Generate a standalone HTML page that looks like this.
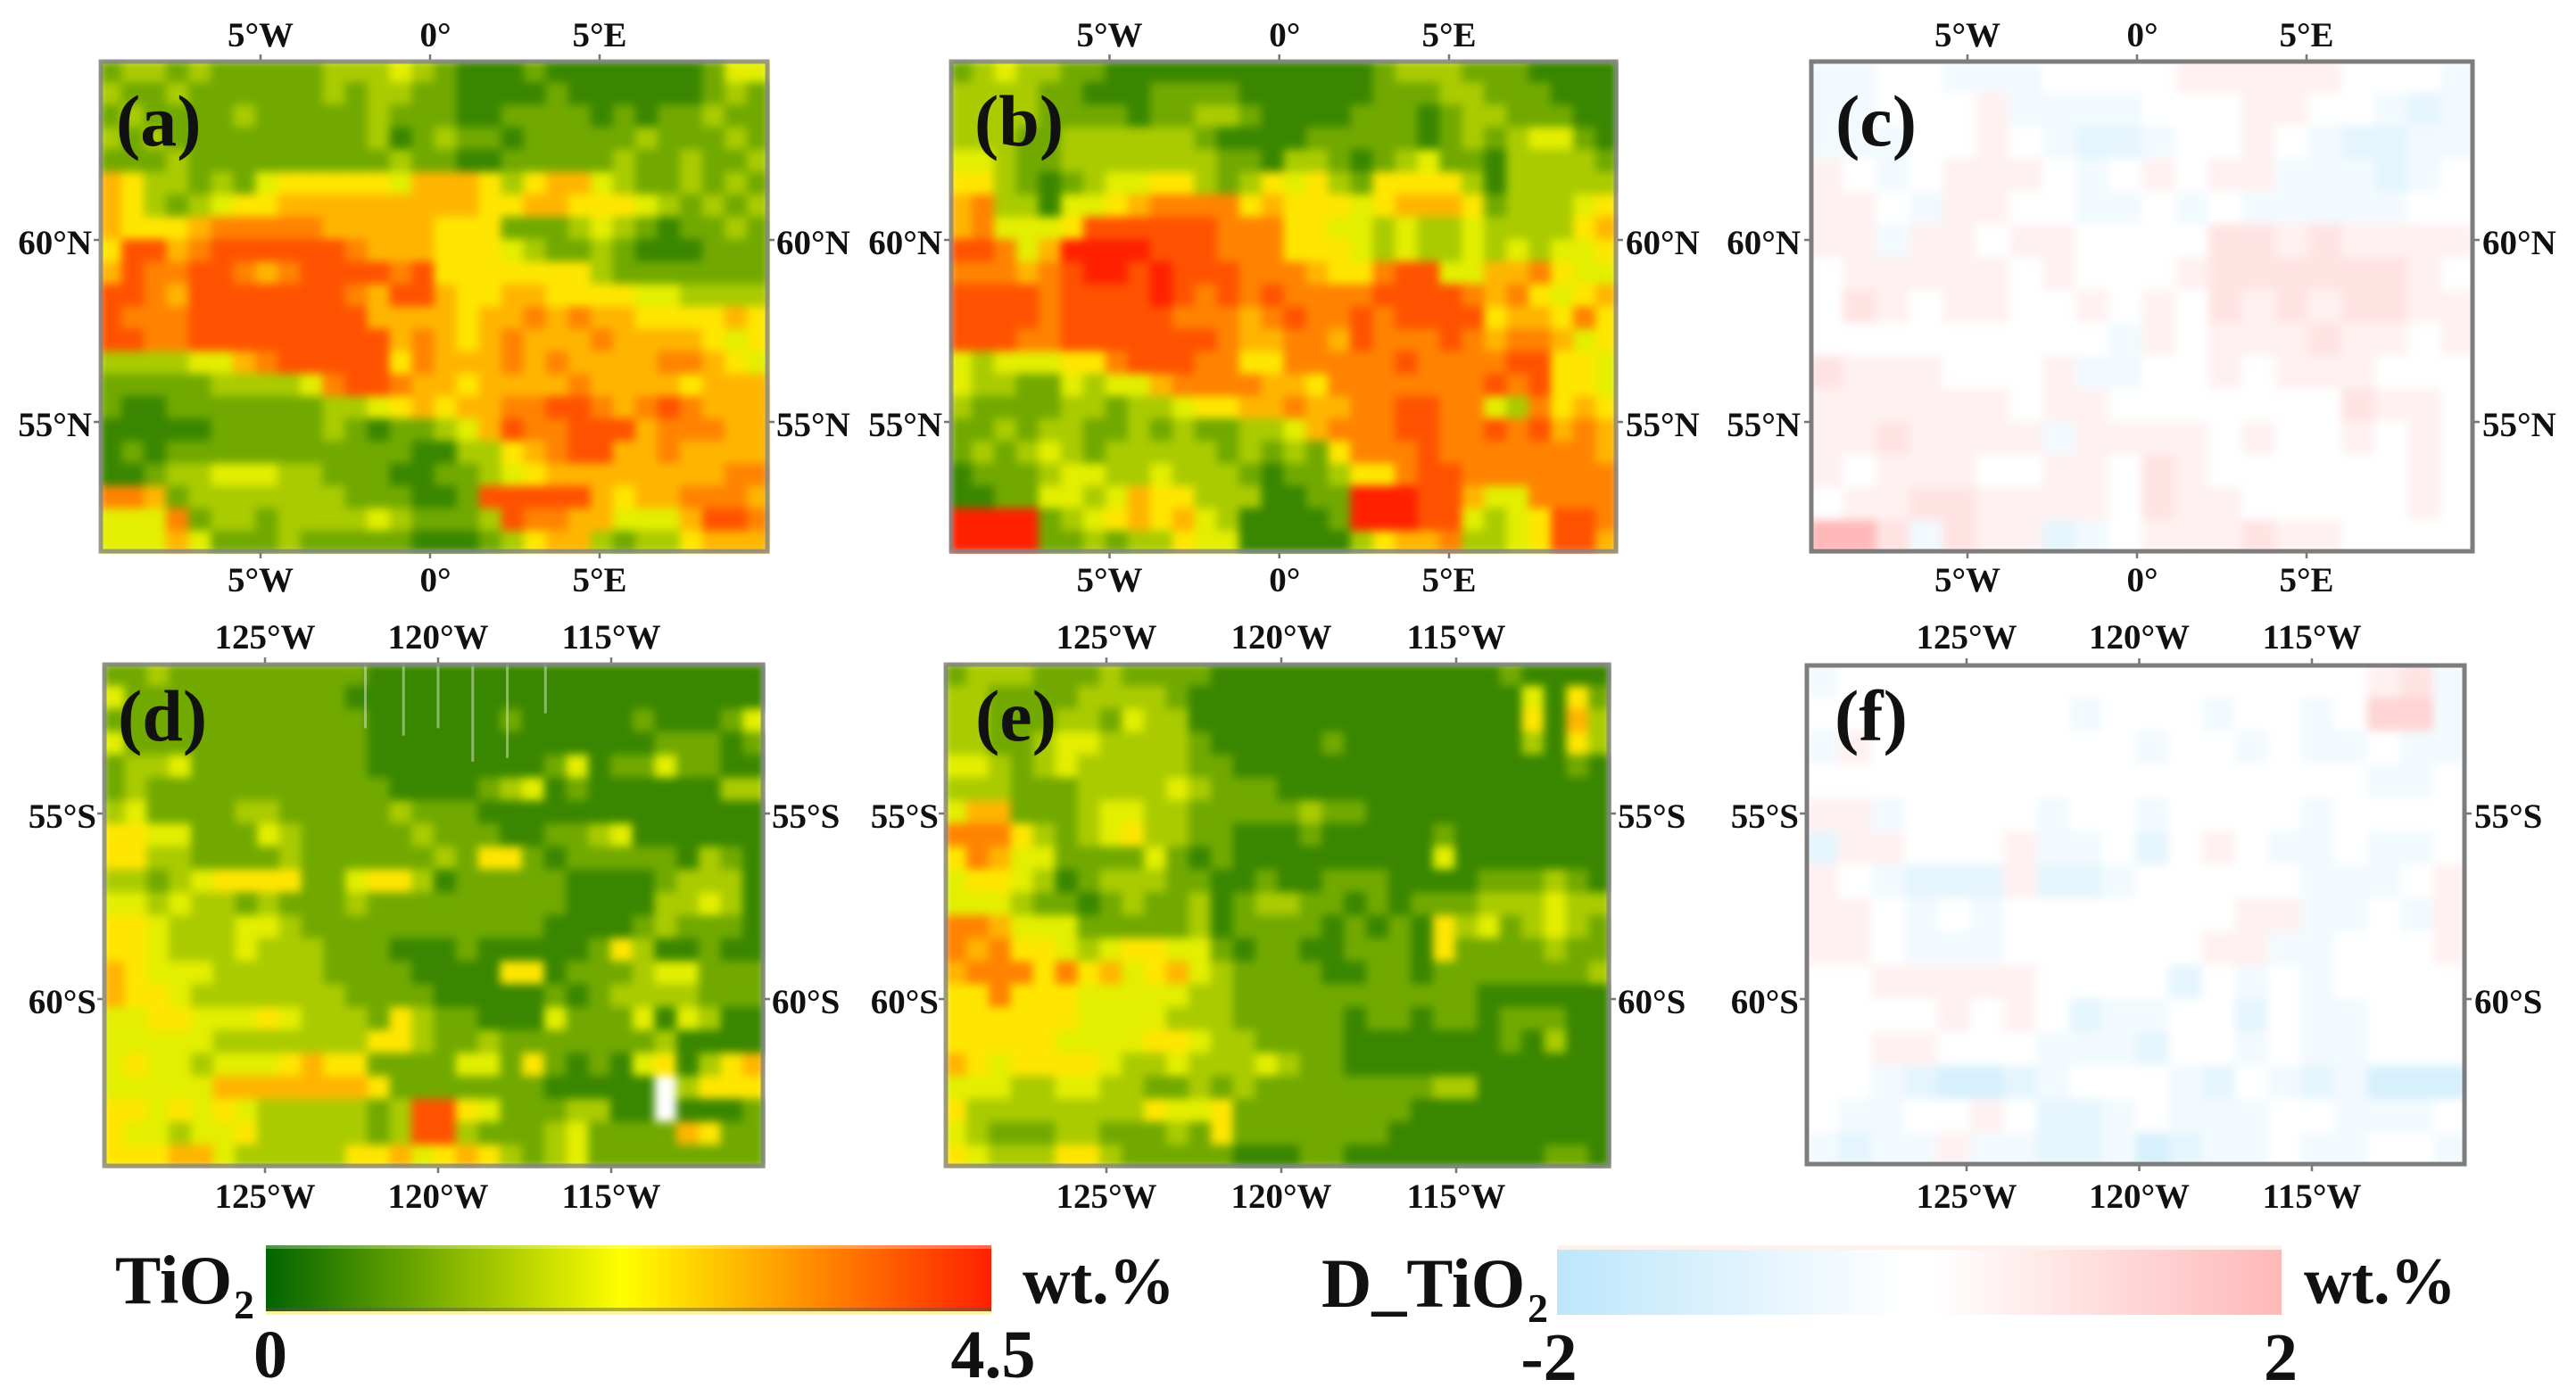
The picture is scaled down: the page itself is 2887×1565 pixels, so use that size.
<!DOCTYPE html>
<html lang="en">
<head>
<meta charset="utf-8">
<title>TiO2 maps</title>
<style>
html,body{margin:0;padding:0;background:#fff;width:2887px;height:1565px;overflow:hidden}
svg{display:block}
text{font-family:"Liberation Serif",serif;font-weight:bold;fill:#111}
</style>
</head>
<body>
<svg id="figure" xmlns="http://www.w3.org/2000/svg" width="2887" height="1565" viewBox="0 0 2887 1565">
<defs>
<filter id="soften" x="0" y="0" width="100%" height="100%" color-interpolation-filters="sRGB"><feGaussianBlur stdDeviation="5"/></filter>
<linearGradient id="tio2-gradient" x1="0" x2="1" y1="0" y2="0">
<stop offset="0" stop-color="#006400"/><stop offset="0.49" stop-color="#ffff00"/><stop offset="1" stop-color="#ff2000"/>
</linearGradient>
<linearGradient id="diff-gradient" x1="0" x2="1" y1="0" y2="0">
<stop offset="0" stop-color="#bde6fb"/><stop offset="0.48" stop-color="#ffffff"/><stop offset="0.52" stop-color="#ffffff"/><stop offset="1" stop-color="#ffb8b8"/>
</linearGradient>
</defs>
<rect width="2887" height="1565" fill="#fff"/>
<g id="panels"></g>

<g>
<rect x="298" y="1469" width="813" height="5" fill="#fff59a"/>
<rect x="298" y="1396" width="813" height="74" fill="url(#tio2-gradient)"/>
<rect x="298" y="1396" width="813" height="4" fill="#fff" opacity="0.3"/>
<rect x="298" y="1466" width="813" height="4" fill="#555" opacity="0.45"/>
<text x="129" y="1461" font-size="77">TiO</text>
<text x="262" y="1478" font-size="46">2</text>
<text x="1146" y="1461" font-size="74">wt.%</text>
<text x="303" y="1544" font-size="76" text-anchor="middle">0</text>
<text x="1113" y="1544" font-size="76" text-anchor="middle">4.5</text>
</g>

<g>
<rect x="1745" y="1396" width="812" height="6" fill="#fdf1ee"/>
<rect x="1745" y="1401" width="812" height="73" fill="url(#diff-gradient)"/>
<text x="1481" y="1465" font-size="78">D_TiO</text>
<text x="1712" y="1482" font-size="46">2</text>
<text x="2582" y="1461" font-size="74">wt.%</text>
<text x="1736" y="1547" font-size="76" text-anchor="middle">-2</text>
<text x="2556" y="1547" font-size="76" text-anchor="middle">2</text>
</g>
</svg>

<script>
/* Tick values and labels */
const lonTicksNorth = [-5, 0, 5];
const lonLabelsNorth = ["5°W", "0°", "5°E"];
const latTicksNorth = [60, 55];
const latLabelsNorth = ["60°N", "55°N"];
const lonTicksSouth = [-125, -120, -115];
const lonLabelsSouth = ["125°W", "120°W", "115°W"];
const latTicksSouth = [-55, -60];
const latLabelsSouth = ["55°S", "60°S"];

/* TiO2 level per grid cell: 0 (0 wt.%) to 9 (4.5 wt.%); null = no data */
const tio2LevelMax = 9;
const panelA = [
[2,3,3,2,3,2,2,2,2,2,3,3,3,4,3,2,1,1,1,2,1,1,1,1,1,1,1,2,4,4],
[3,2,2,3,2,2,2,2,2,2,3,2,3,3,2,2,1,1,1,1,2,1,1,1,1,1,1,2,3,2],
[2,3,2,2,2,2,3,2,2,2,2,2,3,2,2,2,1,1,2,2,2,2,1,2,1,2,2,3,2,2],
[3,2,3,2,2,2,2,2,2,2,2,2,3,1,2,3,2,2,1,2,2,2,2,2,3,2,2,2,3,2],
[2,2,2,3,2,2,2,2,2,2,2,2,2,3,2,2,1,1,2,2,2,2,2,3,2,2,3,2,2,3],
[6,5,3,3,2,3,2,4,5,5,5,5,5,4,6,6,6,5,3,5,6,6,4,3,2,2,3,2,3,2],
[6,5,3,2,3,4,5,5,6,6,6,6,6,6,6,6,6,5,5,6,6,5,5,5,4,3,2,3,2,3],
[6,5,5,5,6,7,7,7,7,7,6,6,6,6,6,5,5,5,2,2,2,3,4,3,2,1,2,2,3,2],
[5,8,8,6,7,8,8,8,8,8,8,7,6,6,6,5,5,5,4,3,2,2,3,2,1,1,1,2,2,2],
[6,8,7,7,8,8,7,6,7,8,8,8,8,7,8,5,5,5,5,5,5,5,3,2,2,2,2,2,2,2],
[8,8,7,6,8,8,8,8,8,8,8,7,6,8,8,6,5,5,6,6,5,5,5,5,4,4,3,3,3,3],
[8,7,7,7,8,8,8,8,8,8,8,8,6,6,6,6,5,6,6,7,6,7,6,6,5,5,5,5,6,5],
[8,8,7,7,8,8,8,8,8,8,8,8,8,6,7,6,5,6,7,6,6,6,7,6,6,6,6,5,4,5],
[3,3,3,3,4,4,6,7,8,8,8,8,8,5,7,6,6,6,7,6,7,6,6,6,6,7,7,6,5,4],
[2,2,2,2,2,3,3,3,3,4,7,8,8,7,6,6,5,6,6,6,6,7,6,6,6,6,5,6,6,6],
[2,1,1,2,2,2,2,2,2,2,3,3,4,5,6,5,6,6,7,7,8,8,7,6,7,8,7,6,6,6],
[1,1,1,1,1,2,2,2,2,2,3,2,1,2,2,3,4,6,8,7,7,8,8,8,6,7,7,7,6,6],
[1,2,1,2,2,2,2,2,2,2,2,2,2,2,1,1,3,3,5,6,7,8,8,6,6,7,6,6,6,6],
[1,1,2,3,3,4,4,4,3,3,2,2,2,1,1,2,2,3,4,5,6,6,6,6,6,6,6,6,7,7],
[7,7,6,2,3,3,3,3,3,3,3,2,2,2,1,1,2,8,8,8,8,8,6,5,6,6,7,7,7,6],
[4,4,4,7,2,3,3,2,3,3,3,3,4,3,2,2,2,3,8,7,7,6,6,4,4,4,6,8,8,7],
[4,4,4,6,4,2,2,2,3,2,2,2,2,2,1,1,1,2,3,5,6,6,3,2,3,3,5,6,6,6]
];
const panelB = [
[2,3,4,3,3,2,2,1,1,1,1,1,1,1,1,1,1,1,1,2,3,3,3,2,2,2,1,1,1,1],
[3,3,3,3,2,2,1,1,1,2,2,2,2,1,1,1,1,1,1,2,2,2,3,3,2,2,2,1,1,1],
[3,3,3,3,2,2,2,2,1,2,2,3,3,2,1,1,1,1,2,2,2,1,2,3,3,2,2,2,1,1],
[3,3,3,2,2,3,3,3,3,3,3,2,1,1,1,1,2,2,2,2,2,1,2,3,2,3,4,4,2,1],
[4,4,3,2,2,3,3,3,3,3,3,3,2,2,1,3,3,2,1,2,3,4,2,2,1,3,3,3,3,2],
[5,5,3,2,1,2,3,4,4,5,5,3,2,3,5,4,5,3,2,5,5,5,5,3,1,3,3,3,3,3],
[6,7,3,3,1,4,4,5,6,7,7,7,7,5,6,5,5,5,4,5,6,6,6,5,2,3,3,3,4,5],
[6,7,4,4,4,5,8,8,8,8,8,8,7,7,7,5,5,4,4,3,4,3,3,4,3,3,3,3,5,6],
[8,8,7,4,6,9,9,9,9,8,8,8,7,7,7,5,5,5,4,3,4,3,3,4,3,4,3,4,4,5],
[7,7,7,6,7,8,9,9,8,9,8,8,8,7,7,7,6,5,5,7,8,8,4,4,6,6,7,5,4,4],
[8,8,8,8,7,8,8,8,8,9,8,7,8,7,8,7,7,7,7,8,8,8,8,7,6,7,5,4,5,6],
[8,8,8,8,7,8,8,8,8,8,7,7,7,6,7,8,7,7,8,7,8,8,8,8,5,6,6,5,7,5],
[8,8,8,7,7,8,8,8,8,8,8,8,7,6,6,7,7,6,8,7,7,7,8,7,6,7,7,6,4,5],
[4,3,4,4,4,5,5,7,8,8,8,7,7,5,5,7,7,7,7,7,8,7,7,7,7,8,8,5,5,4],
[4,3,3,2,2,4,3,4,4,6,7,7,7,7,6,6,5,7,7,7,7,7,7,7,8,7,8,5,5,4],
[3,2,2,2,2,3,3,2,3,3,4,5,5,6,6,7,6,6,7,7,8,8,7,7,4,3,7,5,6,5],
[2,2,3,2,3,3,2,2,3,2,3,2,2,3,3,4,6,7,7,7,8,8,7,7,8,7,8,6,7,6],
[2,3,2,3,4,3,2,3,3,3,3,3,2,3,2,3,2,5,7,7,7,8,7,7,7,7,7,7,7,6],
[1,2,2,2,3,4,4,3,3,4,3,3,3,2,1,2,2,3,5,5,7,8,8,7,7,7,7,7,7,7],
[1,1,2,2,4,4,3,4,6,5,5,3,3,3,1,1,2,2,9,9,9,8,8,6,4,4,7,7,7,7],
[9,9,9,9,2,3,4,5,6,5,6,4,3,1,1,1,1,2,9,9,9,8,8,4,3,4,5,8,8,7],
[9,9,9,9,2,2,3,2,3,3,5,4,4,1,1,1,1,1,3,5,6,6,7,3,3,4,5,8,8,6]
];
const panelD = [
[2,2,3,2,2,2,2,2,2,2,2,2,1,1,1,1,1,1,1,1,1,1,1,1,1,1,1,1,1,1],
[4,2,2,2,2,2,2,2,2,2,2,1,1,1,1,1,1,1,1,1,1,1,1,1,1,1,1,1,1,1],
[2,2,2,2,2,2,2,2,2,2,2,2,1,1,1,1,1,1,2,1,1,1,1,1,2,1,1,1,2,4],
[4,2,2,2,2,2,2,2,2,2,2,2,1,1,1,1,1,1,1,1,1,1,1,1,1,2,2,2,1,2],
[2,3,3,4,2,2,2,2,2,2,2,2,1,1,1,1,1,1,1,1,2,4,1,2,2,4,2,2,1,1],
[2,3,2,2,2,2,2,2,2,2,2,2,2,1,1,1,1,2,3,4,1,2,1,1,1,1,1,1,3,3],
[3,4,2,2,2,2,3,3,2,2,2,2,2,3,2,2,2,1,1,1,1,1,1,1,1,1,1,1,1,1],
[5,5,4,4,2,2,2,4,3,2,2,2,2,2,3,2,2,2,1,1,2,2,3,4,1,1,1,1,1,1],
[5,5,3,3,2,2,2,2,3,2,2,2,2,2,2,3,2,5,5,2,1,2,2,2,2,2,1,3,2,1],
[3,3,2,3,4,5,5,5,5,2,2,4,5,5,3,1,2,2,2,2,2,1,1,1,1,2,3,3,3,1],
[4,4,3,4,3,3,2,3,2,2,2,3,2,2,2,2,2,2,2,2,2,1,1,1,1,3,3,4,3,1],
[5,5,4,3,3,3,4,4,3,2,2,2,2,2,2,2,2,2,2,2,1,1,1,1,2,3,2,2,2,1],
[5,5,4,3,3,3,4,3,3,3,2,2,2,1,1,1,2,1,1,1,1,1,2,5,3,1,1,2,1,1],
[6,5,4,4,4,3,3,3,3,3,2,2,2,2,1,1,1,1,5,5,1,2,2,2,3,4,4,2,2,2],
[6,5,5,4,3,3,3,3,3,3,3,2,2,2,2,1,1,1,1,1,2,1,2,3,3,3,3,2,2,2],
[4,4,5,5,4,4,4,5,4,3,3,3,2,5,3,2,2,1,1,1,4,2,2,2,4,1,4,3,1,1],
[4,4,4,4,4,3,3,3,3,3,3,3,5,5,3,2,2,3,2,2,2,2,2,2,2,3,1,1,1,1],
[4,5,4,4,3,4,4,4,5,6,5,5,2,2,2,2,4,4,2,5,2,1,2,1,4,5,1,3,5,6],
[4,4,4,4,4,6,6,6,6,6,6,6,5,2,2,2,2,2,2,2,1,1,1,1,1,null,3,5,5,5],
[5,5,4,5,4,5,4,3,3,3,3,3,2,3,8,8,5,4,2,2,2,3,3,1,1,null,1,1,1,2],
[5,4,4,3,4,4,5,3,3,3,3,3,2,3,8,8,3,2,2,2,3,4,2,2,2,2,6,5,2,2],
[5,5,5,6,6,4,3,3,3,3,3,5,5,6,4,5,6,5,3,2,3,4,2,2,2,2,2,2,2,2]
];
const panelE = [
[2,3,3,3,2,2,2,3,2,2,2,2,1,1,1,1,1,1,1,1,1,1,1,1,1,2,1,1,1,1],
[3,3,2,2,2,2,3,3,3,3,2,1,1,1,1,1,1,1,1,1,1,1,1,1,1,1,4,1,5,2],
[3,3,2,2,2,3,3,2,4,3,3,1,1,1,1,1,1,1,1,1,1,1,1,1,1,1,5,1,6,3],
[3,3,2,2,3,4,4,3,3,3,3,2,1,1,1,1,1,2,1,1,1,1,1,1,1,1,3,1,5,3],
[4,4,3,2,3,4,3,3,3,3,3,2,2,1,1,1,1,1,1,1,1,1,1,1,1,1,1,1,2,1],
[3,3,3,2,2,2,3,3,3,3,4,3,2,2,2,1,1,1,1,1,1,1,1,1,1,1,1,1,1,1],
[4,6,6,2,2,2,3,4,4,3,3,2,2,2,2,2,3,2,2,1,1,1,1,1,1,1,1,1,1,1],
[7,7,7,5,3,2,3,4,5,3,3,2,2,1,1,1,2,1,1,1,1,1,2,1,1,1,1,1,1,1],
[5,7,6,4,4,2,2,2,2,4,2,1,2,1,1,1,1,1,1,1,1,1,4,1,1,1,1,1,1,1],
[4,5,5,4,3,1,2,3,3,3,2,2,1,1,2,1,1,2,2,2,1,1,1,1,2,2,2,3,2,1],
[4,4,4,3,2,2,1,2,3,2,2,3,1,2,3,3,2,2,1,2,1,2,2,2,3,3,3,4,3,3],
[7,7,6,4,4,4,2,2,2,2,2,3,1,2,2,2,2,1,2,1,2,1,5,3,4,2,3,4,3,2],
[7,6,7,5,5,4,3,4,5,5,4,4,2,1,2,2,1,1,2,2,2,1,5,2,2,2,2,3,2,2],
[6,7,7,7,5,7,5,6,4,5,6,4,3,2,2,2,2,1,1,2,2,1,2,2,2,2,2,2,2,3],
[5,5,7,5,5,5,4,4,4,4,4,3,3,2,2,2,2,2,2,2,2,2,2,2,1,1,1,1,1,1],
[5,5,5,5,5,5,4,4,4,4,3,3,3,2,2,2,2,2,1,2,2,1,2,2,1,2,2,2,1,1],
[5,5,5,5,5,4,4,4,4,5,5,4,3,3,2,2,2,2,1,1,1,1,1,1,1,2,1,3,1,1],
[6,5,4,5,5,5,5,4,3,3,4,3,3,3,4,3,2,2,1,1,1,1,1,1,1,1,1,1,1,1],
[4,4,4,3,3,4,4,3,3,2,2,3,2,3,2,2,2,2,2,2,2,2,3,3,1,1,1,1,1,1],
[5,3,3,3,3,3,3,3,3,5,4,4,5,2,2,2,2,2,2,2,2,1,1,1,1,1,1,1,1,1],
[4,3,2,2,2,3,3,2,2,2,3,2,5,2,2,2,2,2,2,2,1,1,1,1,1,1,1,1,1,1],
[5,4,3,3,3,5,5,3,2,2,2,2,2,1,1,1,2,2,1,1,1,1,1,1,1,1,1,2,2,1]
];

/* Difference level per grid cell: -5 (-2 wt.%) to 5 (2 wt.%) */
const diffLevelMax = 5;
const panelC = [
[-1,-1,0,0,-1,-1,-1,0,0,0,0,1,1,1,1,1,0,0,0,-1],
[-1,-1,0,0,0,1,-1,-1,-1,-1,0,0,0,1,1,0,0,-1,-2,-1],
[-1,-1,-1,0,0,1,0,-1,-2,-2,-1,0,0,1,0,-1,-2,-2,-1,-1],
[1,0,-1,0,1,1,1,0,-1,0,1,0,1,1,-1,-1,-1,-2,-1,0],
[1,1,0,-1,1,1,0,0,-1,-1,0,-1,0,-1,-1,-1,-1,-1,0,0],
[1,1,-1,1,1,0,1,1,0,0,0,0,2,2,1,2,1,1,1,1],
[0,1,1,1,1,1,0,1,0,0,0,1,2,2,2,2,2,2,1,0],
[0,2,1,0,1,1,0,0,1,0,1,0,2,1,2,1,2,2,1,1],
[0,0,0,0,0,0,0,0,0,-1,1,0,1,1,1,2,1,1,0,1],
[2,1,1,1,0,0,0,1,-1,-1,0,0,1,0,1,1,1,0,0,0],
[1,1,1,1,1,1,0,1,1,0,0,0,0,0,0,0,2,1,1,0],
[1,1,2,1,1,1,1,-1,1,1,1,1,0,1,0,0,1,0,1,0],
[1,0,1,1,1,0,0,1,1,0,2,1,0,0,0,0,0,0,1,0],
[0,1,1,2,2,1,1,1,1,0,2,1,1,0,0,0,0,0,1,0],
[5,5,2,-1,2,1,1,-2,-1,0,1,1,1,2,1,1,0,0,0,0]
];
const panelF = [
[-1,0,0,0,0,0,0,0,0,0,0,0,0,0,0,0,0,1,2,-1],
[0,0,0,0,0,0,0,0,-1,0,0,0,-1,0,0,-1,0,3,3,-1],
[-1,1,0,0,0,0,0,0,0,0,-1,0,0,-1,0,-1,-1,0,-1,-1],
[0,0,0,0,0,0,0,0,0,0,0,0,0,0,0,0,0,-1,-1,0],
[1,1,-1,0,0,0,0,-1,0,0,-1,0,0,0,0,-1,0,0,0,0],
[-2,1,1,0,0,0,1,-1,-1,0,-2,0,1,0,-1,-1,0,-1,-1,0],
[1,0,-1,-2,-2,-2,1,-2,-2,-1,0,0,0,0,0,-1,-1,-1,0,1],
[1,1,0,-1,0,-1,0,0,0,0,0,0,0,1,1,-1,-1,0,-1,1],
[1,1,0,-1,-1,-1,0,0,0,0,0,0,1,1,-1,-1,0,0,0,1],
[0,0,1,1,1,1,1,0,0,0,0,-2,0,-1,0,-1,0,0,0,0],
[0,0,0,0,1,0,1,0,-2,-1,-1,0,0,-2,0,-1,-1,0,0,0],
[0,0,1,1,0,0,0,-1,-1,-1,-2,0,0,-1,0,-1,-1,0,0,0],
[0,0,-1,-2,-3,-3,-2,-1,0,0,0,-1,-2,0,-1,-2,-1,-3,-3,-3],
[0,-1,-1,0,0,1,0,-2,-2,-1,0,-1,-1,-1,0,0,-1,-1,-1,0],
[-1,-2,-1,-1,1,-1,-1,-2,-2,-1,-3,-2,-1,-1,0,-1,-1,0,0,-1]
];

/* Bright striping in panel d: longitude and the latitude where each stripe ends */
const stripeLons = [-122.1, -121, -120, -119, -118, -116.9];
const stripeEndLats = [-52.7, -52.9, -52.7, -53.6, -53.5, -52.3];

/* Colour ramp stops */
const tio2Ramp = [[0, 100, 0], [255, 255, 0], [255, 32, 0]];
const diffRamp = [[189, 230, 251], [255, 255, 255], [255, 184, 184]];

const SVG_NS = "http://www.w3.org/2000/svg";
const root = document.getElementById("panels");

function make(tag, parent) {
  const el = document.createElementNS(SVG_NS, tag);
  parent.appendChild(el);
  return el;
}
function mix(a, b, t) {
  return "rgb(" + [0, 1, 2].map(i => Math.round(a[i] + (b[i] - a[i]) * t)).join(",") + ")";
}
function rampColor(ramp, t) {
  if (t <= 0.5) return mix(ramp[0], ramp[1], t / 0.5);
  return mix(ramp[1], ramp[2], (t - 0.5) / 0.5);
}
function tio2Color(v) {
  if (v === null) return "#ffffff";
  return rampColor(tio2Ramp, v / tio2LevelMax);
}
function diffColor(v) {
  return rampColor(diffRamp, (v + diffLevelMax) / (2 * diffLevelMax));
}
function linearScale(d0, d1, r0, r1) {
  return v => r0 + (v - d0) * (r1 - r0) / (d1 - d0);
}

function drawPanel(cfg) {
  const g = make("g", root);
  
  
  const width = cfg.x1 - cfg.x0, height = cfg.y1 - cfg.y0;
  const xOf = linearScale(cfg.lons[0], cfg.lons[2], cfg.lonPx[0], cfg.lonPx[1]);
  const yOf = linearScale(cfg.lats[0], cfg.lats[1], cfg.latPx[0], cfg.latPx[1]);

  const cells = make("g", g);
  
  
  cells.setAttribute("filter", "url(#soften)");
  const rows = cfg.grid.length, cols = cfg.grid[0].length;
  const cw = width / cols, ch = height / rows;
  cfg.grid.forEach((row, r) => row.forEach((v, c) => {
    const cell = make("rect", cells);
    
    
    cell.setAttribute("x", cfg.x0 + c * cw);
    cell.setAttribute("y", cfg.y0 + r * ch);
    cell.setAttribute("width", cw + 0.6);
    cell.setAttribute("height", ch + 0.6);
    cell.setAttribute("fill", cfg.color(v));
  }));

  if (cfg.stripes) {
    stripeLons.forEach((lon, i) => {
      const line = make("line", g);
      
      
      line.setAttribute("x1", xOf(lon));
      line.setAttribute("x2", xOf(lon));
      line.setAttribute("y1", cfg.y0);
      line.setAttribute("y2", yOf(stripeEndLats[i]));
      line.setAttribute("stroke", "#cfe3c0");
      line.setAttribute("stroke-width", "3");
      line.setAttribute("opacity", "0.55");
    });
  }

  const frame = make("rect", g);
  
  
  frame.setAttribute("x", cfg.x0 + 2);
  frame.setAttribute("y", cfg.y0 + 2);
  frame.setAttribute("width", width - 4);
  frame.setAttribute("height", height - 4);
  frame.setAttribute("fill", "none");
  frame.setAttribute("stroke", "#7d7d7d");
  frame.setAttribute("stroke-width", "5");
  frame.setAttribute("opacity", cfg.frameOpacity);

  cfg.lons.forEach((lon, i) => {
    [[cfg.y0 - 6, cfg.y0, cfg.topBase, "x-label-top"], [cfg.y1, cfg.y1 + 6, cfg.botBase, "x-label-bottom"]].forEach(s => {
      const tick = make("line", g);
      
      
      tick.setAttribute("x1", xOf(lon));
      tick.setAttribute("x2", xOf(lon));
      tick.setAttribute("y1", s[0]);
      tick.setAttribute("y2", s[1]);
      tick.setAttribute("stroke", "#777");
      tick.setAttribute("stroke-width", "2.5");
      const label = make("text", g);
      
      
      label.setAttribute("x", xOf(lon) + (lon === 0 ? 6 : 0));
      label.setAttribute("y", s[2]);
      label.setAttribute("font-size", "39");
      label.setAttribute("text-anchor", "middle");
      label.textContent = cfg.lonLabels[i];
    });
  });

  cfg.lats.forEach((lat, i) => {
    const leftTick = make("line", g);
    
    
    leftTick.setAttribute("x1", cfg.x0 - 6);
    leftTick.setAttribute("x2", cfg.x0);
    leftTick.setAttribute("y1", yOf(lat));
    leftTick.setAttribute("y2", yOf(lat));
    leftTick.setAttribute("stroke", "#777");
    leftTick.setAttribute("stroke-width", "2.5");
    const rightTick = make("line", g);
    
    
    rightTick.setAttribute("x1", cfg.x1);
    rightTick.setAttribute("x2", cfg.x1 + 6);
    rightTick.setAttribute("y1", yOf(lat));
    rightTick.setAttribute("y2", yOf(lat));
    rightTick.setAttribute("stroke", "#777");
    rightTick.setAttribute("stroke-width", "2.5");
    const left = make("text", g);
    
    
    left.setAttribute("x", cfg.leftEnd);
    left.setAttribute("y", yOf(lat) + 16);
    left.setAttribute("font-size", "39");
    left.setAttribute("text-anchor", "end");
    left.textContent = cfg.latLabels[i];
    const right = make("text", g);
    
    
    right.setAttribute("x", cfg.rightStart);
    right.setAttribute("y", yOf(lat) + 16);
    right.setAttribute("font-size", "39");
    right.textContent = cfg.latLabels[i];
  });

  const tag = make("text", g);
  
  
  tag.setAttribute("x", cfg.x0 + cfg.tagDx);
  tag.setAttribute("y", cfg.tagY);
  tag.setAttribute("font-size", "82");
  tag.textContent = "(" + cfg.id + ")";
}

drawPanel({id:"a",grid:panelA,color:tio2Color,x0:111,x1:862,y0:67,y1:620,lons:lonTicksNorth,lonPx:[292,672],lonLabels:lonLabelsNorth,lats:latTicksNorth,latPx:[269,473],latLabels:latLabelsNorth,topBase:52,botBase:663,leftEnd:103,rightStart:870,tagDx:19,tagY:163,frameOpacity:0.75});
drawPanel({id:"b",grid:panelB,color:tio2Color,x0:1064,x1:1813,y0:67,y1:620,lons:lonTicksNorth,lonPx:[1243.5,1624],lonLabels:lonLabelsNorth,lats:latTicksNorth,latPx:[269,473],latLabels:latLabelsNorth,topBase:52,botBase:663,leftEnd:1056,rightStart:1822,tagDx:28,tagY:163,frameOpacity:0.75});
drawPanel({id:"c",grid:panelC,color:diffColor,x0:2028,x1:2773,y0:67,y1:620,lons:lonTicksNorth,lonPx:[2205,2585],lonLabels:lonLabelsNorth,lats:latTicksNorth,latPx:[269,473],latLabels:latLabelsNorth,topBase:52,botBase:663,leftEnd:2018,rightStart:2782,tagDx:29,tagY:163,frameOpacity:1});
drawPanel({id:"d",grid:panelD,color:tio2Color,stripes:true,x0:115,x1:857,y0:743,y1:1309,lons:lonTicksSouth,lonPx:[297,685],lonLabels:lonLabelsSouth,lats:latTicksSouth,latPx:[912,1120],latLabels:latLabelsSouth,topBase:727,botBase:1354,leftEnd:108,rightStart:865,tagDx:17,tagY:830,frameOpacity:0.75});
drawPanel({id:"e",grid:panelE,color:tio2Color,x0:1058,x1:1805,y0:743,y1:1309,lons:lonTicksSouth,lonPx:[1240,1632],lonLabels:lonLabelsSouth,lats:latTicksSouth,latPx:[912,1120],latLabels:latLabelsSouth,topBase:727,botBase:1354,leftEnd:1052,rightStart:1813,tagDx:35,tagY:830,frameOpacity:0.75});
drawPanel({id:"f",grid:panelF,color:diffColor,x0:2023,x1:2764,y0:744,y1:1307,lons:lonTicksSouth,lonPx:[2204,2591],lonLabels:lonLabelsSouth,lats:latTicksSouth,latPx:[912,1120],latLabels:latLabelsSouth,topBase:727,botBase:1354,leftEnd:2016,rightStart:2773,tagDx:33,tagY:830,frameOpacity:1});
</script>
</body>
</html>
